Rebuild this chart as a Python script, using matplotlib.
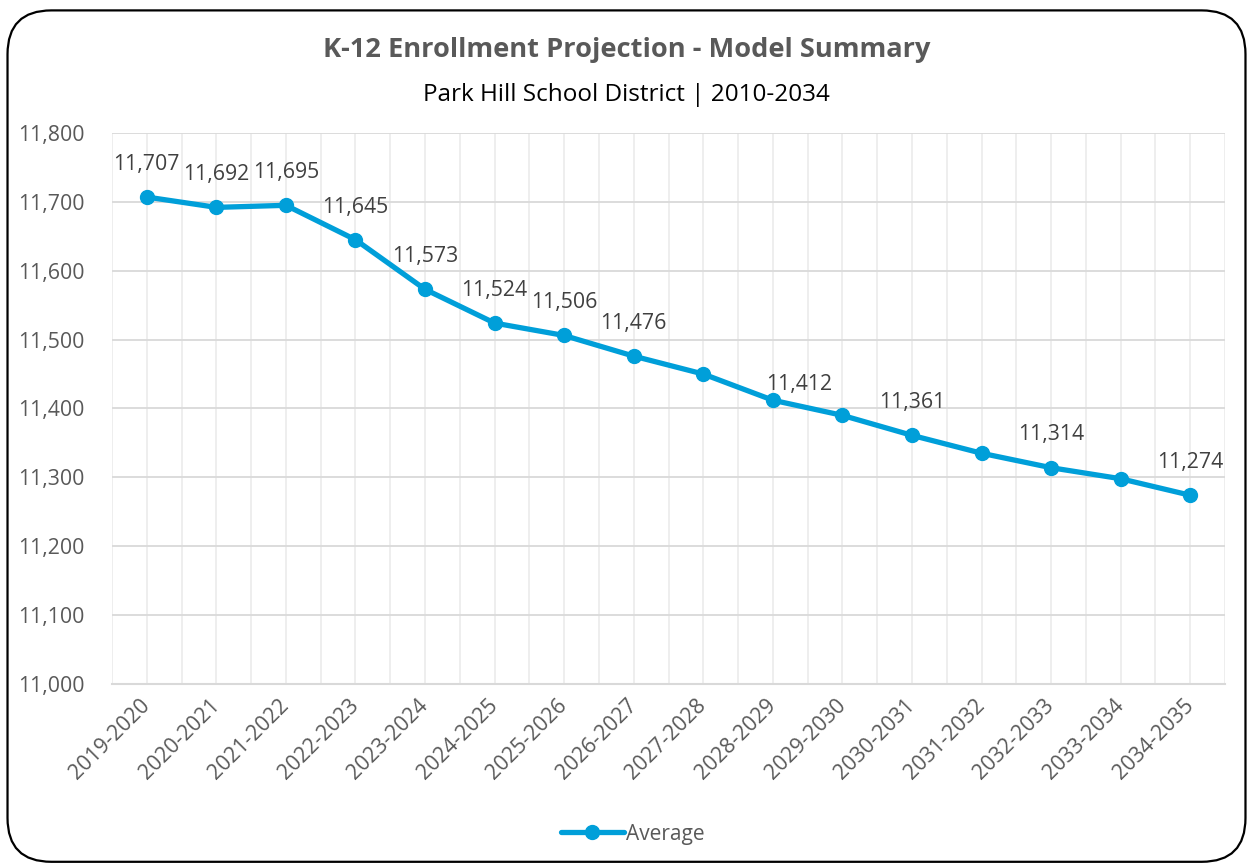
import matplotlib
matplotlib.use('Agg')

import matplotlib.pyplot as plt
from matplotlib.patches import FancyBboxPatch
from matplotlib.ticker import FuncFormatter, MultipleLocator


# Años escolares y matrícula media proyectada
years = ['2019-2020', '2020-2021', '2021-2022', '2022-2023', '2023-2024', '2024-2025',
         '2025-2026', '2026-2027', '2027-2028', '2028-2029', '2029-2030', '2030-2031',
         '2031-2032', '2032-2033', '2033-2034', '2034-2035']
average = [11707, 11692, 11695, 11645, 11573, 11524, 11506, 11476,
           11450, 11412, 11390, 11361, 11335, 11314, 11298, 11274]

# Solo algunos puntos llevan etiqueta
labelled = [0, 1, 2, 3, 4, 5, 6, 7, 9, 11, 13, 15]

title = 'K-12 Enrollment Projection - Model Summary'
subtitle = 'Park Hill School District | 2010-2034'

blue = '#009FD9'
grey_text = '#595959'

plt.rcParams['font.family'] = ['Open Sans', 'DejaVu Sans']

fig = plt.figure(figsize=(12.53, 8.67), dpi=100)
ax = fig.add_axes([0.0894, 0.2111, 0.8883, 0.6355])

x = list(range(len(years)))
ax.plot(x, average, color=blue, linewidth=3.8, marker='o', markersize=10,
        solid_capstyle='round', label='Average', zorder=3)

for i in labelled:
    dx, dy = 0, 16
    if i == 9:
        dx, dy = 19, 4
    ax.annotate(f'{average[i]:,}', (x[i], average[i]), xytext=(dx, dy),
                textcoords='offset points', ha='center', va='bottom',
                fontsize=15.3, color='#404040')

# Ejes y rejilla
ax.set_xlim(-0.5, len(years) - 0.5)
ax.set_ylim(11000, 11800)
ax.yaxis.set_major_locator(MultipleLocator(100))
ax.yaxis.set_major_formatter(FuncFormatter(lambda v, p: f'{int(v):,}'))
ax.set_xticks(x)
ax.set_xticks([i + 0.5 for i in range(-1, len(years))], minor=True)
ax.set_xticklabels(years, rotation=45, ha='right', va='center', rotation_mode='anchor')

ax.grid(axis='y', color='#D9D9D9', linewidth=1.3, zorder=0)
ax.grid(axis='x', which='both', color='#EDEDED', linewidth=1.3, zorder=0)
ax.set_axisbelow(True)

for s in ['top', 'right', 'left']:
    ax.spines[s].set_visible(False)
ax.spines['bottom'].set_color('#D9D9D9')
ax.spines['bottom'].set_linewidth(1.5)

ax.tick_params(axis='both', which='both', length=0, labelsize=15.3, colors='#595959')
ax.tick_params(axis='y', pad=20)
ax.tick_params(axis='x', pad=13)

# Títulos
fig.text(0.5, 0.942, title, ha='center', va='center', fontsize=19.6,
         fontweight='bold', color=grey_text)
fig.text(0.5, 0.8905, subtitle, ha='center', va='center', fontsize=17.5, color='black')

# Leyenda inferior
fig.legend(loc='center', bbox_to_anchor=(0.505, 0.038), frameon=False, fontsize=15,
           labelcolor='#595959', handlelength=3, handletextpad=0.1)

# Marco redondeado del gráfico
frame = FancyBboxPatch((0.006, 0.006), 0.988, 0.982, transform=fig.transFigure,
                       boxstyle='round,pad=0,rounding_size=0.035', fill=False,
                       edgecolor='black', linewidth=1.6, mutation_aspect=1.445)
fig.patches.append(frame)

fig.savefig('out.png', dpi=100)
